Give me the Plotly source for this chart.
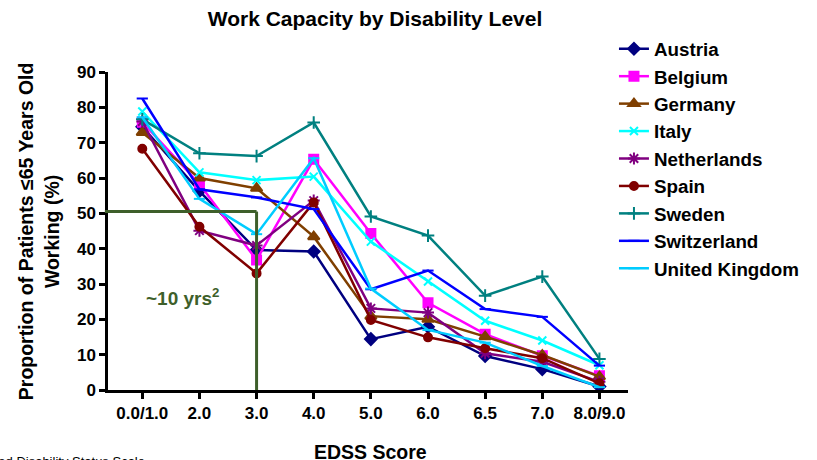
import plotly.graph_objects as go

categories = ["0.0/1.0", "2.0", "3.0", "4.0", "5.0", "6.0", "6.5", "7.0", "8.0/9.0"]

austria = [74.5, 56.3, 39.6, 39.2, 14.4, 17.9, 9.6, 5.9, 1.0]
belgium = [75.8, 58.3, 36.8, 65.3, 44.3, 24.7, 15.8, 9.7, 4.0]
germany = [72.9, 60.0, 57.1, 43.4, 20.9, 20.0, 15.1, 9.9, 3.8]
italy = [78.8, 61.6, 59.4, 60.4, 42.0, 30.7, 19.6, 14.0, 7.0]
netherlands = [76.0, 45.1, 40.9, 53.6, 23.1, 21.9, 10.4, 8.0, 2.3]
spain = [68.3, 46.2, 33.0, 53.1, 19.8, 14.9, 11.8, 9.0, 1.9]
sweden = [76.6, 67.0, 66.2, 75.7, 49.1, 43.7, 26.7, 32.1, 8.8]
switzerland = [82.5, 56.8, 54.5, 51.2, 28.5, 33.8, 22.9, 20.7, 6.9]
uk = [77.2, 54.1, 44.1, 65.6, 28.7, 17.0, 13.4, 6.8, 0.8]

series = [
    ("Austria", austria, "#000080", "diamond", 9),
    ("Belgium", belgium, "#FF00FF", "square", 9),
    ("Germany", germany, "#7F3F00", "triangle-up", 10),
    ("Italy", italy, "#00FFFF", "x-thin-open", 8),
    ("Netherlands", netherlands, "#800080", "asterisk-open", 10),
    ("Spain", spain, "#800000", "circle", 8),
    ("Sweden", sweden, "#008080", "cross-thin-open", 9),
    ("Switzerland", switzerland, "#0000FF", "line-ew-open", 8),
    ("United Kingdom", uk, "#00CCFF", "line-ew-open", 8),
]

FONT = "Liberation Sans, Arial, sans-serif"
GREEN = "#3E5F2A"

fig = go.Figure()
for name, vals, color, sym, size in series:
    fig.add_trace(go.Scatter(
        x=list(range(len(categories))), y=vals, name=name, mode="lines+markers",
        line=dict(color=color, width=2.5),
        marker=dict(symbol=sym, size=size, color=color, line=dict(color=color, width=2)),
    ))

# 50% reference line and its drop at EDSS 3.0
fig.add_shape(type="line", xref="paper", yref="y", x0=-0.006, x1=(2 + 0.6) / 9.1, y0=50.5, y1=50.5,
              line=dict(color=GREEN, width=3))
fig.add_shape(type="line", xref="x", yref="y", x0=2, x1=2, y0=50.5, y1=0,
              line=dict(color=GREEN, width=3))

fig.add_annotation(x=0.7, y=26.3, xref="x", yref="y", text="~10 yrs<sup>2</sup>", showarrow=False,
                   font=dict(family=FONT, size=19, color=GREEN, weight="bold"))

fig.add_annotation(x=(375 - 108) / 529, y=(390 - 452) / 318, xref="paper", yref="paper", text="EDSS Score",
                   showarrow=False, yanchor="middle",
                   font=dict(family=FONT, size=19.5, color="black", weight="bold"))
fig.add_annotation(x=(37 - 108) / 529, y=0.5, xref="paper", yref="paper",
                   text="Proportion of Patients ≤65 Years Old<br>Working (%)", showarrow=False, textangle=-90,
                   font=dict(family=FONT, size=19.5, color="black", weight="bold"), xanchor="center")
fig.add_annotation(x=(-102 - 108) / 529, y=(390 - 461) / 318, xref="paper", yref="paper",
                   text="EDSS = Expanded Disability Status Scale", showarrow=False, xanchor="left",
                   yanchor="middle", font=dict(family=FONT, size=13, color="black"))

fig.update_layout(
    width=817, height=460,
    margin=dict(l=108, r=180, t=72, b=70),
    paper_bgcolor="white", plot_bgcolor="white",
    title=dict(text="Work Capacity by Disability Level", x=375 / 817, xanchor="center", y=0.96, yanchor="middle",
               font=dict(family=FONT, size=21, color="black", weight="bold")),
    xaxis=dict(range=[-0.6, 8.5], tickmode="array", tickvals=list(range(len(categories))), ticktext=categories,
               showgrid=False, zeroline=False, showline=True, linecolor="black", linewidth=3,
               ticks="outside", ticklen=6, tickwidth=2.5, tickcolor="black",
               tickfont=dict(family=FONT, size=17, color="black", weight="bold")),
    yaxis=dict(range=[0, 90], tickvals=list(range(0, 91, 10)), showgrid=False, zeroline=False,
               showline=True, linecolor="black", linewidth=2.5, ticks="outside", ticklen=6, tickwidth=2.5,
               tickcolor="black", tickfont=dict(family=FONT, size=17, color="black", weight="bold")),
    legend=dict(x=0.973, y=1.132, xanchor="left", yanchor="top", bgcolor="rgba(0,0,0,0)",
                font=dict(family=FONT, size=18.8, color="black", weight="bold"), tracegroupgap=0,
                maxheight=420),
    showlegend=True,
)

fig.write_html("out.html")
